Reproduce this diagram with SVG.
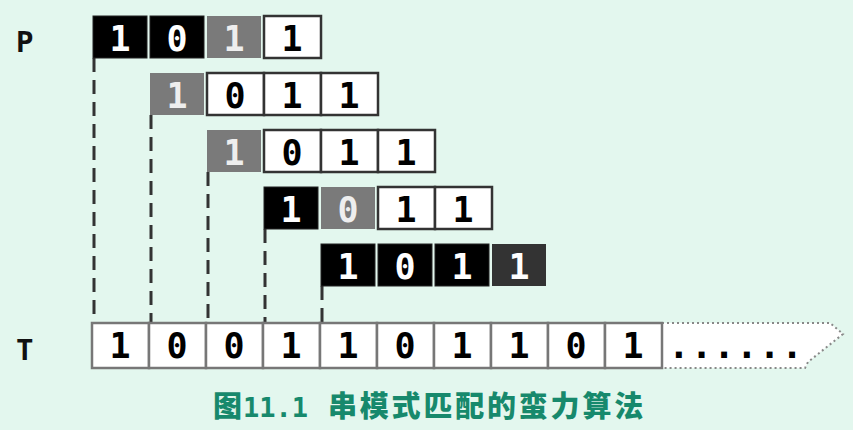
<svg xmlns="http://www.w3.org/2000/svg" width="853" height="430" viewBox="0 0 853 430">
<defs>
<style>
.bg{fill:#e3f7ee}
.b{fill:#000;stroke:#222;stroke-width:1}
.g{fill:#7a7a7a}
.d{fill:#333}
.w{fill:#fff;stroke:#333;stroke-width:2.5}
.t{fill:#fff;stroke:#777;stroke-width:2.5}
.dig{font-family:"DejaVu Sans Mono",monospace;font-weight:bold;font-size:35px;text-anchor:middle}
.lw{fill:#fff}
.lg{fill:#eee}
.lb{fill:#000}
.lab{font-family:"DejaVu Sans Mono",monospace;font-weight:bold;font-size:29px;fill:#111}
.dash{stroke:#333;stroke-width:3;stroke-dasharray:14 8;fill:none}
.dot{fill:#fff;stroke:#888;stroke-width:2;stroke-dasharray:2 3}
.cap{font-family:"Noto Sans CJK SC",sans-serif;font-weight:900;font-size:29px;fill:#17896c}
.capm{font-family:"DejaVu Sans Mono",monospace;font-weight:bold;font-size:27px}
</style>
</defs>
<rect class="bg" x="0" y="0" width="853" height="430"/>
<g id="labels">
<text class="lab" x="16" y="52">P</text>
<text class="lab" x="16" y="360">T</text>
</g>
<g id="connectors">
<line class="dash" x1="94" y1="58" x2="94" y2="322"/>
<line class="dash" x1="151" y1="115" x2="151" y2="322"/>
<line class="dash" x1="208" y1="172" x2="208" y2="322"/>
<line class="dash" x1="265" y1="229" x2="265" y2="322"/>
<line class="dash" x1="322" y1="286" x2="322" y2="322"/>
</g>
<g id="p0">
<rect class="b" x="93" y="16" width="54" height="42"/><text class="dig lw" x="120" y="51">1</text>
<rect class="b" x="150" y="16" width="54" height="42"/><text class="dig lw" x="177" y="51">0</text>
<rect class="g" x="207" y="16" width="54" height="42"/><text class="dig lg" x="234" y="51">1</text>
<rect class="w" x="264" y="16" width="57" height="42"/><text class="dig lb" x="292" y="51">1</text>
</g>
<g id="p1">
<rect class="g" x="150" y="73" width="54" height="42"/><text class="dig lg" x="177" y="108">1</text>
<rect class="w" x="207" y="73" width="57" height="42"/><text class="dig lb" x="235" y="108">0</text>
<rect class="w" x="264" y="73" width="57" height="42"/><text class="dig lb" x="292" y="108">1</text>
<rect class="w" x="321" y="73" width="57" height="42"/><text class="dig lb" x="349" y="108">1</text>
</g>
<g id="p2">
<rect class="g" x="207" y="130" width="54" height="42"/><text class="dig lg" x="234" y="165">1</text>
<rect class="w" x="264" y="130" width="57" height="42"/><text class="dig lb" x="292" y="165">0</text>
<rect class="w" x="321" y="130" width="57" height="42"/><text class="dig lb" x="349" y="165">1</text>
<rect class="w" x="378" y="130" width="57" height="42"/><text class="dig lb" x="406" y="165">1</text>
</g>
<g id="p3">
<rect class="b" x="264" y="187" width="54" height="42"/><text class="dig lw" x="291" y="222">1</text>
<rect class="g" x="321" y="187" width="54" height="42"/><text class="dig lg" x="348" y="222">0</text>
<rect class="w" x="378" y="187" width="57" height="42"/><text class="dig lb" x="406" y="222">1</text>
<rect class="w" x="435" y="187" width="57" height="42"/><text class="dig lb" x="463" y="222">1</text>
</g>
<g id="p4">
<rect class="b" x="321" y="244" width="54" height="42"/><text class="dig lw" x="348" y="279">1</text>
<rect class="b" x="378" y="244" width="54" height="42"/><text class="dig lw" x="405" y="279">0</text>
<rect class="b" x="435" y="244" width="54" height="42"/><text class="dig lw" x="462" y="279">1</text>
<rect class="d" x="492" y="244" width="54" height="42"/><text class="dig lw" x="519" y="279">1</text>
</g>
<g id="t">
<path class="dot" d="M662,323 H830 L843,334 L808,362 L805,368 H662 Z"/>
<rect class="t" x="92" y="323" width="57" height="45"/><text class="dig lb" x="120" y="358">1</text>
<rect class="t" x="149" y="323" width="57" height="45"/><text class="dig lb" x="177" y="358">0</text>
<rect class="t" x="206" y="323" width="57" height="45"/><text class="dig lb" x="234" y="358">0</text>
<rect class="t" x="263" y="323" width="57" height="45"/><text class="dig lb" x="291" y="358">1</text>
<rect class="t" x="320" y="323" width="57" height="45"/><text class="dig lb" x="348" y="358">1</text>
<rect class="t" x="377" y="323" width="57" height="45"/><text class="dig lb" x="405" y="358">0</text>
<rect class="t" x="434" y="323" width="57" height="45"/><text class="dig lb" x="462" y="358">1</text>
<rect class="t" x="491" y="323" width="57" height="45"/><text class="dig lb" x="519" y="358">1</text>
<rect class="t" x="548" y="323" width="57" height="45"/><text class="dig lb" x="576" y="358">0</text>
<rect class="t" x="605" y="323" width="57" height="45"/><text class="dig lb" x="633" y="358">1</text>
<text class="dig lb" x="668" y="358" style="text-anchor:start;letter-spacing:1px;font-size:36px">......</text>
</g>
<g id="caption">
<text class="cap" y="417"><tspan x="213">图</tspan><tspan class="capm" x="243">11.1 </tspan><tspan x="328" style="letter-spacing:2.8px">串模式匹配的蛮力算法</tspan></text>
</g>
</svg>
